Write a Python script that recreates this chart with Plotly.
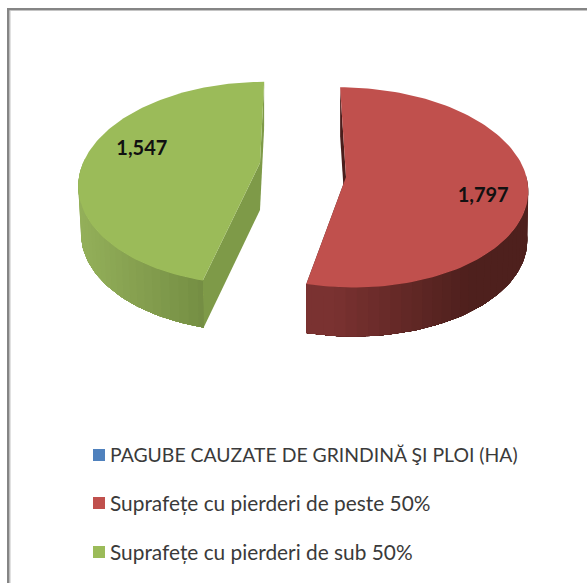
import numpy as np
import plotly.graph_objects as go

# Data
categories = ["PAGUBE CAUZATE DE GRINDINĂ ŞI PLOI (HA)",
              "Suprafețe cu pierderi de peste 50%",
              "Suprafețe cu pierderi de sub 50%"]
values = [0, 1797, 1547]
value_labels = ["", "1,797", "1,547"]

# Style and projection settings for each slice (blue slice has zero size)
top_colors = ["#4F81BD", "#C0504D", "#9BBB59"]
GEOM = {
    1: dict(cx=346, cy=177, a=180.5, b=99, k=0.104, s=-6.5, d=49, taper=0.995,
            ramp=("#7A3231", "#4E201D"), ramp_span=135, radial="#4A1D1B",
            lab_rho=0.755, lab_dy=11),
    2: dict(cx=260, cy=163, a=177, b=97.4, k=0.20, s=5, d=47, taper=0.985,
            ramp=("#94B05A", "#647C38"), ramp_span=None, radial="#7E9A48",
            lab_rho=0.685, lab_dy=-5),
}
LEGEND_STYLE = [dict(y=455, size=19.4), dict(y=503, size=20.85), dict(y=552, size=20.85)]


def project(theta, rho, g):
    t = np.radians(theta)
    u, v = np.sin(t), np.cos(t)
    p = 1 / (1 + g["k"] * rho * v)
    x = g["cx"] + (g["a"] * u + g["s"] * v) * rho * p
    y = g["cy"] - g["b"] * v * rho * p
    return x, y


def lower(x, y, g):
    return g["cx"] + (x - g["cx"]) * g["taper"], y + g["d"]


def rgb(h):
    return np.array([int(h[i:i + 2], 16) for i in (1, 3, 5)], dtype=float)


def mix(c0, c1, t):
    c = rgb(c0) * (1 - t) + rgb(c1) * t
    return "rgb(%d,%d,%d)" % tuple(c)


fig = go.Figure()


def poly(xs, ys, color):
    fig.add_trace(go.Scatter(x=list(xs), y=list(ys), mode="lines", fill="toself",
                             fillcolor=color, line=dict(color=color, width=0),
                             showlegend=False, hoverinfo="skip"))


total = sum(values)
start = 0.0
slices = []
for i, val in enumerate(values):
    sweep = 360.0 * val / total
    slices.append((i, start, start + sweep))
    start += sweep

for i, a0, a1 in slices[::-1]:
    if a1 <= a0:
        continue
    g = GEOM[i]
    th = np.linspace(a0, a1, 121)
    ax, ay = project(th, 1.0, g)
    # radial walls
    for ang in (a0, a1):
        vx, vy = project(ang, 1.0, g)
        bx, by = lower(vx, vy, g)
        cbx, cby = lower(g["cx"], g["cy"], g)
        poly([g["cx"], vx, bx, cbx, g["cx"]], [g["cy"], vy, by, cby, g["cy"]], g["radial"])
    # rim wall with a shading ramp; strips overlap so no seams show
    front = np.where(np.cos(np.radians(th)) < 0.05)[0]
    xv = project(a0 if i == 1 else a1, 1.0, g)[0]
    xmin = ax[front].min() if i == 2 else xv
    span = g["ramp_span"] or (xv - xmin)
    # paint from the end far from the front corner, each strip running on to that corner
    order = front[::-1] if i == 2 else front
    for j in order[::2]:
        seg = np.arange(j, front[0] - 1, -1) if i == 2 else np.arange(j, front[-1] + 1)
        tx, ty = ax[seg], ay[seg]
        bx, by = lower(tx, ty, g)
        t = float(np.clip((ax[j] - xmin) / span, 0, 1))
        poly(np.r_[tx, bx[::-1], tx[0]], np.r_[ty, by[::-1], ty[0]],
             mix(g["ramp"][0], g["ramp"][1], t))
    # top face
    poly(np.r_[g["cx"], ax, g["cx"]], np.r_[g["cy"], ay, g["cy"]], top_colors[i])

# Data labels
for i, a0, a1 in slices:
    if a1 <= a0:
        continue
    g = GEOM[i]
    lx, ly = project((a0 + a1) / 2, g["lab_rho"], g)
    fig.add_trace(go.Scatter(x=[lx], y=[ly + g["lab_dy"]], mode="text", text=[value_labels[i]],
                             textposition="middle center",
                             textfont=dict(family="Lato", size=20, color="#111111", weight="bold"),
                             showlegend=False, hoverinfo="skip"))

# Legend rows: swatch and label
for i, name in enumerate(categories):
    st = LEGEND_STYLE[i]
    fig.add_trace(go.Scatter(x=[99], y=[st["y"]], mode="markers", name=name,
                             marker=dict(symbol="square", size=12, color=top_colors[i]),
                             showlegend=False, hoverinfo="name"))
    fig.add_trace(go.Scatter(x=[110], y=[st["y"] + 2.5], mode="text", text=[name],
                             textposition="middle right",
                             textfont=dict(family="Lato", size=st["size"], color="#3A3A3A"),
                             showlegend=False, hoverinfo="skip"))

frame = "#858585"
soft = "#C4C4C4"
fig.update_layout(
    width=587, height=583, margin=dict(l=0, r=0, t=0, b=0),
    paper_bgcolor="white", plot_bgcolor="white", showlegend=False,
    xaxis=dict(range=[0, 587], visible=False, fixedrange=True),
    yaxis=dict(range=[583, 0], visible=False, fixedrange=True),
    shapes=[
        dict(type="line", xref="x", yref="y", x0=10, x1=10, y0=10, y1=583, line=dict(color=soft, width=1)),
        dict(type="line", xref="x", yref="y", x0=9, x1=587, y0=10.5, y1=10.5, line=dict(color=soft, width=1)),
        dict(type="line", xref="x", yref="y", x0=8.2, x1=8.2, y0=8, y1=583, line=dict(color=frame, width=2.4)),
        dict(type="line", xref="x", yref="y", x0=7, x1=587, y0=9, y1=9, line=dict(color=frame, width=2.2)),
    ],
)

fig.write_html("out.html", config={"displayModeBar": False},
               post_script="document.body.style.margin='0';document.body.style.overflow='hidden';")
